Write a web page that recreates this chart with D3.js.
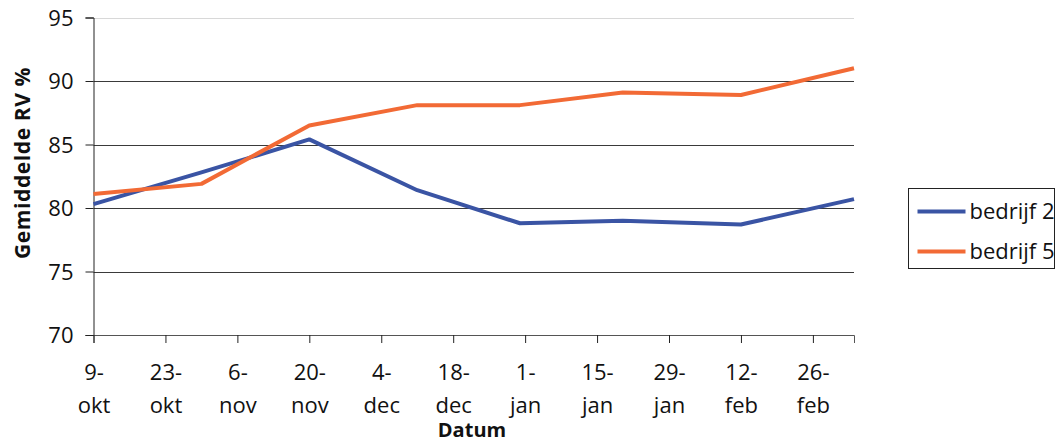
<!DOCTYPE html>
<html>
<head>
<meta charset="utf-8">
<script src="https://cdn.jsdelivr.net/npm/d3@7"></script>
<style>
  body { margin: 0; background: #fff; }
  text { font-family: "Open Sans", "Noto Sans", sans-serif; fill: #111; }
</style>
</head>
<body>
<svg id="chart" width="1058" height="443"></svg>
<script>
// meetdata (Gemiddelde RV %)
const dates = ['2006-10-09', '2006-10-30', '2006-11-20', '2006-12-11', '2006-12-31', '2007-01-20', '2007-02-12', '2007-03-06']
const bedrijf2 = [80.3, 82.8, 85.4, 81.4, 78.8, 79.0, 78.7, 80.7]
const bedrijf5 = [81.1, 81.9, 86.5, 88.1, 88.1, 89.1, 88.9, 91.0]
const seriesNames = ['bedrijf 2', 'bedrijf 5']
const yTicks = [70, 75, 80, 85, 90, 95]
const tickDays = ['9-|okt', '23-|okt', '6-|nov', '20-|nov', '4-|dec', '18-|dec', '1-|jan', '15-|jan', '29-|jan', '12-|feb', '26-|feb']

const colors = ['#3A54A4', '#F26A35']

const margin = { top: 17.5, left: 93.5 },
    plotRight = 854,
    plotBottom = 335

const svg = d3.select('#chart')
const parse = d3.utcParse('%Y-%m-%d')
const dateVals = dates.map(parse)

const x = d3.scaleUtc()
    .domain([dateVals[0], dateVals[dateVals.length - 1]])
    .range([margin.left, plotRight])

const y = d3.scaleLinear()
    .domain([70, 95])
    .range([plotBottom, margin.top])

// gridlines
svg.append('g')
    .selectAll('line')
    .data(yTicks.slice(1))
    .enter().append('line')
    .attr('x1', margin.left)
    .attr('x2', plotRight)
    .attr('y1', d => Math.round(y(d)) + 0.5)
    .attr('y2', d => Math.round(y(d)) + 0.5)
    .attr('stroke', d => d == 95 ? '#d8d8d8' : '#3a3a3a')
    .attr('stroke-width', 1)

// y axis
const yAxis = svg.append('g')
    .attr('transform', `translate(${margin.left},0)`)
    .call(d3.axisLeft(y).tickValues(yTicks).tickSize(8).tickPadding(12))
yAxis.select('.domain').attr('stroke', '#222')
yAxis.selectAll('.tick line').attr('stroke', '#222')
yAxis.selectAll('.tick text')
    .style('font-size', '22px')
    .attr('dy', '0.36em')
    .attr('fill', '#111')

// x axis, ticks every 14 days
const tickDates = d3.range(tickDays.length).map(i => d3.utcDay.offset(dateVals[0], i * 14))
const xAxis = svg.append('g')
    .attr('transform', `translate(0,${plotBottom})`)
    .call(d3.axisBottom(x).tickValues(tickDates).tickSize(8).tickFormat(''))
xAxis.select('.domain').attr('stroke', '#555')
xAxis.selectAll('.tick line').attr('stroke', '#222')

xAxis.selectAll('.tick')
    .append('text')
    .attr('text-anchor', 'middle')
    .style('font-size', '22px')
    .attr('fill', '#111')
    .each(function(d, i) {
        const parts = tickDays[i].split('|')
        const t = d3.select(this)
        t.append('tspan').attr('x', 0).attr('y', 45).text(parts[0])
        t.append('tspan').attr('x', 0).attr('y', 78).text(parts[1])
    })

// lines
const line = d3.line()
    .x((d, i) => x(dateVals[i]))
    .y(d => y(d))

svg.append('g')
    .selectAll('path')
    .data([bedrijf2, bedrijf5])
    .enter().append('path')
    .attr('d', line)
    .attr('fill', 'none')
    .attr('stroke', (d, i) => colors[i])
    .attr('stroke-width', 4)
    .attr('stroke-linejoin', 'round')

// axis titles
svg.append('text')
    .attr('transform', 'translate(30,163) rotate(-90)')
    .attr('text-anchor', 'middle')
    .style('font-size', '21px')
    .style('font-weight', 'bold')
    .style('letter-spacing', '0.6px')
    .text('Gemiddelde RV %')

svg.append('text')
    .attr('x', 472)
    .attr('y', 437)
    .attr('text-anchor', 'middle')
    .style('font-size', '20px')
    .style('font-weight', 'bold')
    .text('Datum')

// legend
const legend = svg.append('g').attr('transform', 'translate(908.5,188.5)')
legend.append('rect')
    .attr('width', 146)
    .attr('height', 80)
    .attr('fill', '#fff')
    .attr('stroke', '#222')

const item = legend.selectAll('g.item')
    .data(seriesNames)
    .enter().append('g')
    .attr('class', 'item')
    .attr('transform', (d, i) => `translate(0,${23 + i * 40})`)

item.append('line')
    .attr('x1', 9)
    .attr('x2', 57)
    .attr('stroke', (d, i) => colors[i])
    .attr('stroke-width', 4)

item.append('text')
    .attr('x', 61)
    .attr('dy', '0.36em')
    .style('font-size', '22px')
    .text(d => d)
</script>
</body>
</html>
